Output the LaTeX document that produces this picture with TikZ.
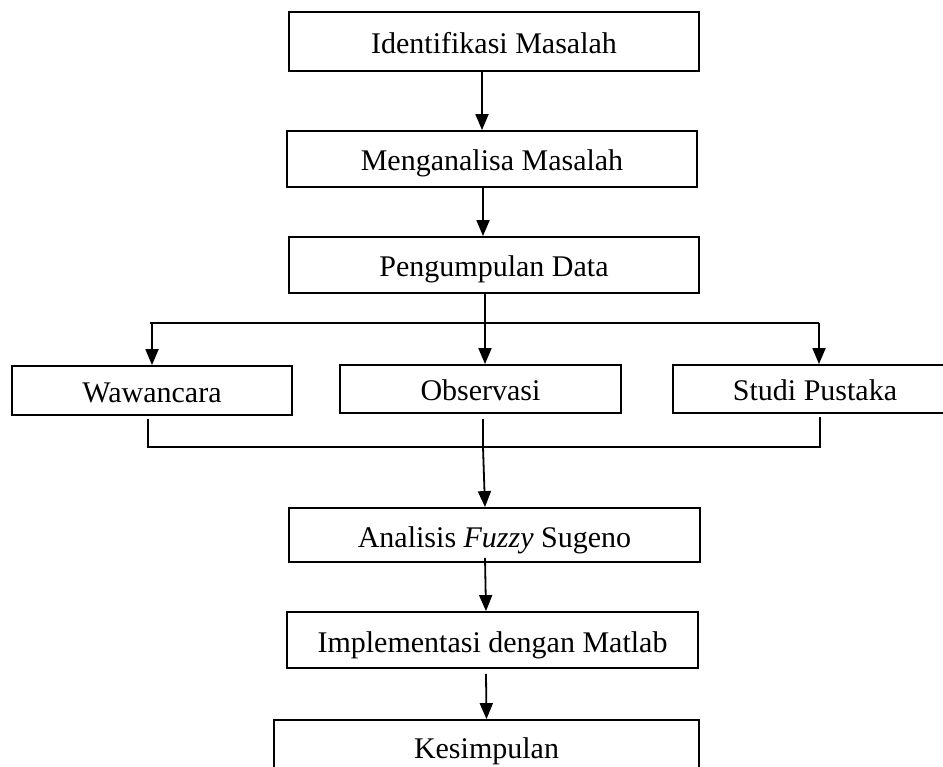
\documentclass[tikz,border=0pt]{standalone}
\usepackage{fontspec}
\setmainfont{Liberation Serif}
\usetikzlibrary{arrows.meta}
\begin{document}
\begin{tikzpicture}[x=1pt,y=-1pt,
  box/.style={draw,line width=1.8pt,rectangle,inner sep=0pt,text height=24pt,text depth=0pt,font=\fontsize{30}{36}\selectfont},
  arr/.style={line width=1.8pt,-{Triangle[length=16pt,width=13pt]}},
  link/.style={line width=1.4pt}]
\useasboundingbox (0,0) rectangle (943,767);
\clip (0,0) rectangle (943,767);
\fill[white] (0,0) rectangle (943,767);
\node[box,minimum width=410pt,minimum height=59pt] (b1) at (494,41.5) {Identifikasi Masalah};
\node[box,minimum width=410pt,minimum height=56pt] (b2) at (492,159) {Menganalisa Masalah};
\node[box,minimum width=410pt,minimum height=56pt] (b3) at (494,265) {Pengumpulan Data};
\node[box,minimum width=280pt,minimum height=49pt] (w) at (152,390.5) {Wawancara};
\node[box,minimum width=281pt,minimum height=48pt] (o) at (480.5,389) {Observasi};
\node[box,minimum width=284pt,minimum height=48pt] (s) at (815,389) {Studi Pustaka};
\node[box,minimum width=411pt,minimum height=54pt] (a) at (494.5,535) {Analisis \textit{Fuzzy} Sugeno};
\node[box,minimum width=411pt,minimum height=56pt] (im) at (492.5,640) {Implementasi dengan Matlab};
\node[box,text height=21pt,minimum width=425pt,minimum height=56pt] (k) at (486.5,748) {Kesimpulan};
\coordinate (hy) at (0,323);
\coordinate (my) at (0,447);
% top chain
\draw[arr] ([xshift=-12pt]b1.south) -- ([xshift=-10pt]b2.north);
\draw[arr] ([xshift=-9pt]b2.south) -- ([xshift=-11pt]b3.north);
% split
\draw[link] ([xshift=-2pt]w.north |- hy) -- ([xshift=4pt]s.north |- hy);
\draw[arr] (w.north |- hy) -- (w.north);
\draw[arr] ([xshift=-9pt]b3.south) -- ([xshift=4.5pt]o.north);
\draw[arr] ([xshift=4pt]s.north |- hy) -- ([xshift=4pt]s.north);
% merge
\draw[link] ([xshift=-4pt,yshift=-3pt]w.south) -- ([xshift=-4pt]w.south |- my) -- ([xshift=5pt]s.south |- my) -- ([xshift=5pt,yshift=-3pt]s.south);
\draw[link] ([xshift=2.5pt,yshift=-5pt]o.south) -- ([xshift=2.5pt]o.south |- my);
\draw[arr] ([xshift=2.5pt]o.south |- my) -- ([xshift=-9.5pt]a.north);
% bottom chain
\draw[arr] ([xshift=-9.5pt,yshift=5pt]a.south) -- ([xshift=-6.5pt]im.north);
\draw[arr] ([xshift=-6.5pt,yshift=-5pt]im.south) -- (k.north);
\end{tikzpicture}
\end{document}
